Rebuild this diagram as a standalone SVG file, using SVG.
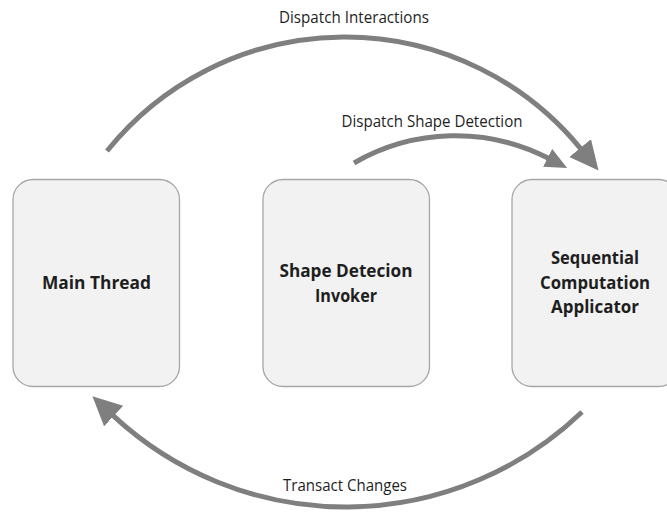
<svg xmlns="http://www.w3.org/2000/svg" width="667" height="512" viewBox="0 0 667 512">
  <style>
    .box { fill: #f2f2f2; stroke: #a6a6a6; stroke-width: 1.3; }
    .node-label { font-family: "Open Sans", "Liberation Sans", sans-serif; font-weight: bold; font-size: 18px; fill: #1e1e1e; text-anchor: middle; }
    .edge { fill: none; stroke: #7f7f7f; stroke-width: 5; }
    .edge-label { font-family: "Open Sans", "Liberation Sans", sans-serif; font-size: 15.5px; fill: #1e1e1e; text-anchor: middle; }
  </style>
  <defs>
    <marker id="head-lg" markerUnits="userSpaceOnUse" markerWidth="30" markerHeight="30" refX="1" refY="14" orient="auto">
      <path d="M0,0 L29,14 L0,28 Z" fill="#7f7f7f"/>
    </marker>
    <marker id="head-sm" markerUnits="userSpaceOnUse" markerWidth="24" markerHeight="22" refX="1" refY="10" orient="auto">
      <path d="M0,0 L22,10 L0,20 Z" fill="#7f7f7f"/>
    </marker>
  </defs>

  <rect width="667" height="512" fill="#ffffff"/>

  <!-- connectors -->
  <g id="connectors">
    <path id="edge-dispatch-interactions" class="edge" d="M107,151 A305,305 0 0 1 580.8,148.8" marker-end="url(#head-lg)"/>
    <path id="edge-dispatch-shape" class="edge" d="M354,163 A203,203 0 0 1 548.5,158.3" marker-end="url(#head-sm)"/>
    <path id="edge-transact" class="edge" d="M582,412 A341.5,341.5 0 0 1 112.9,415.4" marker-end="url(#head-lg)"/>
    <text class="edge-label" x="354" y="23" textLength="150" lengthAdjust="spacingAndGlyphs">Dispatch Interactions</text>
    <text class="edge-label" x="432" y="127" textLength="181" lengthAdjust="spacingAndGlyphs">Dispatch Shape Detection</text>
    <text class="edge-label" x="345" y="491" textLength="124" lengthAdjust="spacingAndGlyphs">Transact Changes</text>
  </g>

  <!-- nodes -->
  <g id="main-thread">
    <rect class="box" x="13" y="179.5" width="166.5" height="207" rx="20" ry="20"/>
    <text class="node-label" x="96.5" y="289" textLength="109" lengthAdjust="spacingAndGlyphs">Main Thread</text>
  </g>
  <g id="shape-detection-invoker">
    <rect class="box" x="263" y="179.5" width="166.5" height="207" rx="20" ry="20"/>
    <text class="node-label" x="346" y="277" textLength="133" lengthAdjust="spacingAndGlyphs">Shape Detecion</text>
    <text class="node-label" x="346" y="301.5" textLength="62" lengthAdjust="spacingAndGlyphs">Invoker</text>
  </g>
  <g id="sequential-computation-applicator">
    <rect class="box" x="512" y="179.5" width="166.5" height="207" rx="20" ry="20"/>
    <text class="node-label" x="595" y="264" textLength="88" lengthAdjust="spacingAndGlyphs">Sequential</text>
    <text class="node-label" x="595" y="289" textLength="110" lengthAdjust="spacingAndGlyphs">Computation</text>
    <text class="node-label" x="595" y="313" textLength="88" lengthAdjust="spacingAndGlyphs">Applicator</text>
  </g>
</svg>
